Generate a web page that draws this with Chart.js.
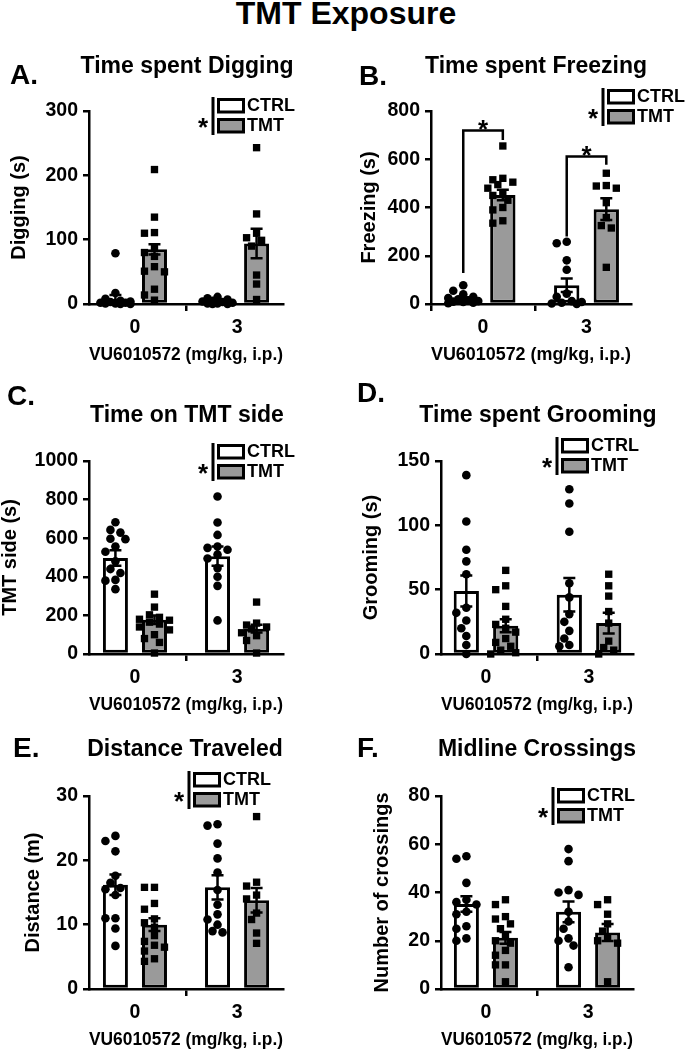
<!DOCTYPE html>
<html>
<head>
<meta charset="utf-8">
<script src="https://cdn.jsdelivr.net/npm/chart.js@4.4.1/dist/chart.umd.min.js"></script>
<style>
  body { margin: 0; width: 688px; height: 1050px; position: relative; overflow: hidden; background: #fff;
         font-family: "Liberation Sans", Arial, sans-serif; font-weight: bold; color: #000; }
  canvas { position: absolute; }
  .txt { position: absolute; line-height: 1; white-space: nowrap; }
</style>
</head>
<body>
<script>
const doses = ["0", "3"];
const xTitle = "VU6010572 (mg/kg, i.p.)";

// A. time spent digging (s)
const digCtrlMean = [8, 4];
const digCtrlSem = [6, 1.2];
const digTmtMean = [85, 94];
const digTmtSem = [8, 23];
const digCtrlPts = [[79, 17, 8, 5, 3, 2, 1, 0, 0, 1, 2, 4], [11, 9, 7, 5, 4, 3, 2, 1, 1, 0, 0]];
const digTmtPts = [[209, 135, 111, 110, 88, 80, 74, 58, 51, 50, 23, 14, 6], [243, 140, 110, 103, 99, 90, 45, 31, 7]];

// B. time spent freezing (s)
const frzCtrlMean = [20, 78];
const frzCtrlSem = [7, 28];
const frzTmtMean = [452, 393];
const frzTmtSem = [22, 45];
const frzCtrlPts = [[78, 55, 40, 30, 25, 20, 15, 12, 10, 8, 5, 3], [258, 252, 181, 142, 43, 30, 12, 8, 5, 2, 0]];
const frzTmtPts = [[655, 521, 515, 505, 495, 480, 460, 450, 430, 400, 390, 345, 335], [542, 491, 489, 480, 420, 358, 325, 315, 152]];
const frzSigLeft = [128, 280];
const frzSigTop = [719, 611];
const frzSigRight = [680, 577];

// C. time on TMT side (s)
const sideCtrlMean = [497, 507];
const sideCtrlSem = [40, 50];
const sideTmtMean = [178, 131];
const sideTmtSem = [22, 20];
const sideCtrlPts = [[683, 643, 629, 597, 595, 557, 530, 480, 440, 420, 384, 380, 336], [816, 681, 617, 557, 550, 540, 515, 495, 445, 400, 353, 174]];
const sideTmtPts = [[310, 243, 203, 190, 180, 175, 165, 155, 140, 125, 100, 80, 60, 5], [269, 160, 150, 140, 130, 110, 95, 70, 5]];

// D. time spent grooming (s)
const grmCtrlMean = [49, 46];
const grmCtrlSem = [12, 13];
const grmTmtMean = [22, 24];
const grmTmtSem = [5, 8];
const grmCtrlPts = [[139, 103, 81, 72, 62, 36, 32, 26, 20, 14, 7, 0], [128, 117, 95, 55, 44, 31, 25, 18, 12, 7, 6]];
const grmTmtPts = [[65, 53, 50, 37, 27, 23, 20, 17, 12, 9, 6, 3, 1, 0], [62, 53, 45, 33, 24, 10, 5, 3, 0]];

// E. distance traveled (m)
const distCtrlMean = [16.2, 15.8];
const distCtrlSem = [1.6, 1.9];
const distTmtMean = [10.0, 13.8];
const distTmtSem = [1.0, 1.9];
const distCtrlPts = [[23.8, 23.0, 21.4, 17.6, 16.5, 15.7, 15.5, 14.6, 11.0, 11.0, 9.4, 6.7], [25.6, 25.4, 22.6, 20.3, 18.1, 15.4, 13.1, 11.6, 10.8, 10.0, 9.0, 8.8]];
const distTmtPts = [[15.8, 15.8, 13.3, 12.4, 10.9, 10.3, 9.6, 8.3, 7.4, 6.8, 6.5, 5.9, 4.7, 4.3], [26.8, 16.6, 16.0, 14.6, 14.0, 11.8, 10.8, 8.7, 7.1]];

// F. midline crossings
const crsCtrlMean = [35.2, 32];
const crsCtrlSem = [3.2, 4.3];
const crsTmtMean = [21.2, 23.4];
const crsTmtSem = [2.4, 3.5];
const crsCtrlPts = [[55, 54, 44, 37, 36, 35, 32, 31, 26, 25, 21, 20], [58, 53, 41, 40, 39, 32, 28, 25, 21, 20, 18, 9]];
const crsTmtPts = [[37, 35, 30, 29, 27, 25, 22, 20, 19, 16, 14, 10, 10, 3], [37, 35, 31, 27, 24, 21, 20, 19, 3]];

const FONT = "'Liberation Sans', Arial, sans-serif";
const PLOT_H = 193;
const TOP_PAD = 80;
const X_H = 60;
const CANVAS_H = 337;
const CAT_PCT = 0.765;

Chart.defaults.font.family = FONT;
Chart.defaults.font.weight = "bold";
Chart.defaults.color = "#000";

function addText(text, x, y, size, align) {
  let d = document.createElement("div");
  d.className = "txt";
  d.innerText = text;
  d.style.fontSize = size + "px";
  d.style.left = x + "px";
  d.style.top = y + "px";
  d.style.transform = align === "left" ? "translate(0,-50%)" : "translate(-50%,-50%)";
  document.body.appendChild(d);
}

// simple beeswarm: horizontal pixel offset for each value so markers don't pile up
function swarm(vals, pxY) {
  const placed = [];
  const offs = vals.map(() => 0);
  const order = vals.map((v, i) => i).sort((a, b) => vals[b] - vals[a]);
  const cands = [0, -5, 5, -10, 10, -15, 15];
  order.forEach((i) => {
    const y = vals[i] * pxY;
    let best = 0, bestD = -1;
    for (const c of cands) {
      let d = Infinity;
      placed.forEach((q) => { d = Math.min(d, Math.hypot(c - q[0], y - q[1])); });
      if (d >= 8) { best = c; break; }
      if (d > bestD) { bestD = d; best = c; }
    }
    offs[i] = best;
    placed.push([best, y]);
  });
  return offs;
}

const errorBars = {
  id: "errorBars",
  afterDatasetsDraw(chart) {
    const ctx = chart.ctx;
    const ys = chart.scales.y;
    chart.data.datasets.forEach((ds, di) => {
      if (!ds.sem) return;
      chart.getDatasetMeta(di).data.forEach((bar, i) => {
        const m = ds.data[i].y, s = ds.sem[i];
        const top = ys.getPixelForValue(m + s);
        const bot = ys.getPixelForValue(Math.max(m - s, 0));
        ctx.save();
        ctx.strokeStyle = "#000";
        ctx.lineWidth = 2.5;
        ctx.beginPath();
        ctx.moveTo(bar.x, top); ctx.lineTo(bar.x, bot);
        ctx.moveTo(bar.x - 6, top); ctx.lineTo(bar.x + 6, top);
        ctx.moveTo(bar.x - 6, bot); ctx.lineTo(bar.x + 6, bot);
        ctx.stroke();
        ctx.restore();
      });
    });
  },
};

const sigBrackets = {
  id: "sigBrackets",
  afterDatasetsDraw(chart, args, opts) {
    if (!opts.left) return;
    const ctx = chart.ctx;
    const ys = chart.scales.y;
    const metas = chart.data.datasets.map((d, i) => (d.type === "bar" ? chart.getDatasetMeta(i) : null)).filter(Boolean);
    opts.left.forEach((lv, i) => {
      const x1 = metas[0].data[i].x, x2 = metas[1].data[i].x;
      const yt = ys.getPixelForValue(opts.top[i]);
      ctx.save();
      ctx.strokeStyle = "#000";
      ctx.lineWidth = 2.5;
      ctx.beginPath();
      ctx.moveTo(x1, ys.getPixelForValue(lv));
      ctx.lineTo(x1, yt);
      ctx.lineTo(x2, yt);
      ctx.lineTo(x2, ys.getPixelForValue(opts.right[i]));
      ctx.stroke();
      ctx.fillStyle = "#000";
      ctx.font = "bold 26px " + FONT;
      ctx.textAlign = "center";
      ctx.textBaseline = "alphabetic";
      ctx.fillText("*", (x1 + x2) / 2, yt + 7);
      ctx.restore();
    });
  },
};

const sigLegend = {
  id: "sigLegend",
  afterDraw(chart, args, opts) {
    const ctx = chart.ctx;
    const ax = chart.chartArea.right + opts.dx;
    const ay = chart.chartArea.top + opts.dy;
    ctx.save();
    ctx.fillStyle = "#000";
    ctx.font = "bold 26px " + FONT;
    ctx.textAlign = "center";
    ctx.textBaseline = "alphabetic";
    ctx.fillText("*", ax - 10, ay + 39);
    ctx.strokeStyle = "#000";
    ctx.lineWidth = 3;
    ctx.beginPath();
    ctx.moveTo(ax, ay); ctx.lineTo(ax, ay + 38);
    ctx.stroke();
    chart.data.datasets.filter((d) => d.type === "bar").forEach((ds, k) => {
      const by = ay + 1 + k * 20;
      ctx.fillStyle = ds.backgroundColor;
      ctx.fillRect(ax + 5.5, by + 1.5, 25, 12.5);
      ctx.strokeRect(ax + 5.5, by + 1.5, 25, 12.5);
      ctx.fillStyle = "#000";
      ctx.font = "bold 18px " + FONT;
      ctx.textAlign = "left";
      ctx.textBaseline = "middle";
      ctx.fillText(ds.label, ax + 34, by + 8.5);
    });
    ctx.restore();
  },
};

const panels = [
  { letter: "A.", title: "Time spent Digging", yTitle: "Digging (s)", yMax: 300, yStep: 100,
    ctrlMean: digCtrlMean, ctrlSem: digCtrlSem, tmtMean: digTmtMean, tmtSem: digTmtSem, ctrlPts: digCtrlPts, tmtPts: digTmtPts,
    left: 0, top: 31, w: 344, yw: 89, padR: 61, xMin: -0.45, xMax: 1.45, yTitlePad: 9.25, legend: [-70, -14],
    letterPos: [10, 75], titlePos: [187, 65] },
  { letter: "B.", title: "Time spent Freezing", yTitle: "Freezing (s)", yMax: 800, yStep: 200,
    ctrlMean: frzCtrlMean, ctrlSem: frzCtrlSem, tmtMean: frzTmtMean, tmtSem: frzTmtSem, ctrlPts: frzCtrlPts, tmtPts: frzTmtPts,
    sig: { left: frzSigLeft, top: frzSigTop, right: frzSigRight },
    left: 344, top: 31, w: 344, yw: 87, padR: 57, xMin: -0.503, xMax: 1.43, yTitlePad: 15.25, legend: [-28, -23],
    letterPos: [359, 76], titlePos: [536, 65] },
  { letter: "C.", title: "Time on TMT side", yTitle: "TMT side (s)", yMax: 1000, yStep: 200,
    ctrlMean: sideCtrlMean, ctrlSem: sideCtrlSem, tmtMean: sideTmtMean, tmtSem: sideTmtSem, ctrlPts: sideCtrlPts, tmtPts: sideTmtPts,
    left: 0, top: 381, w: 344, yw: 89, padR: 61, xMin: -0.45, xMax: 1.45, yTitlePad: 0.25, legend: [-70, -18],
    letterPos: [7, 396], titlePos: [187, 414] },
  { letter: "D.", title: "Time spent Grooming", yTitle: "Grooming (s)", yMax: 150, yStep: 50,
    ctrlMean: grmCtrlMean, ctrlSem: grmCtrlSem, tmtMean: grmTmtMean, tmtSem: grmTmtSem, ctrlPts: grmCtrlPts, tmtPts: grmTmtPts,
    left: 344, top: 381, w: 344, yw: 97, padR: 55, xMin: -0.437, xMax: 1.427, yTitlePad: 17.25, legend: [-76, -24],
    letterPos: [357, 393], titlePos: [538, 414] },
  { letter: "E.", title: "Distance Traveled", yTitle: "Distance (m)", yMax: 30, yStep: 10,
    ctrlMean: distCtrlMean, ctrlSem: distCtrlSem, tmtMean: distTmtMean, tmtSem: distTmtSem, ctrlPts: distCtrlPts, tmtPts: distTmtPts,
    left: 0, top: 716, w: 344, yw: 89, padR: 61, xMin: -0.45, xMax: 1.45, yTitlePad: 23.25, legend: [-94, -25],
    letterPos: [13, 748], titlePos: [185, 748] },
  { letter: "F.", title: "Midline Crossings", yTitle: "Number of crossings", yMax: 80, yStep: 20,
    ctrlMean: crsCtrlMean, ctrlSem: crsCtrlSem, tmtMean: crsTmtMean, tmtSem: crsTmtSem, ctrlPts: crsCtrlPts, tmtPts: crsTmtPts,
    left: 344, top: 716, w: 344, yw: 97, padR: 55, xMin: -0.44, xMax: 1.44, yTitlePad: 28.25, legend: [-80, -9],
    letterPos: [357, 748], titlePos: [537, 748] },
];

function makePanel(p) {
  let canvas = document.createElement("canvas");
  canvas.width = p.w;
  canvas.height = CANVAS_H;
  canvas.style.left = p.left + "px";
  canvas.style.top = p.top + "px";
  document.body.appendChild(canvas);

  const plotW = p.w - p.yw - p.padR;
  const pxX = plotW / (p.xMax - p.xMin);
  const pxY = PLOT_H / p.yMax;
  const half = CAT_PCT / 4;
  const toPoints = (lists, side) =>
    lists.flatMap((vals, i) => {
      const offs = swarm(vals, pxY);
      return vals.map((v, k) => ({ x: i + side * half + offs[k] / pxX, y: v }));
    });

  const axisGrid = { display: true, drawOnChartArea: false, drawTicks: true, color: "#000", lineWidth: 2.5 };

  new Chart(canvas, {
    type: "bar",
    data: {
      datasets: [
        { type: "scatter", label: "CTRL points", data: toPoints(p.ctrlPts, -1), pointStyle: "circle", pointRadius: 4.3,
          backgroundColor: "#000", borderWidth: 0, order: 1, clip: false },
        { type: "scatter", label: "TMT points", data: toPoints(p.tmtPts, 1), pointStyle: "rect", pointRadius: 5.2,
          backgroundColor: "#000", borderWidth: 0, order: 1, clip: false },
        { type: "bar", label: "CTRL", data: p.ctrlMean.map((m, i) => ({ x: i, y: m })), sem: p.ctrlSem,
          backgroundColor: "#ffffff", borderColor: "#000", borderWidth: 3, borderSkipped: false,
          categoryPercentage: CAT_PCT, barPercentage: 0.64, order: 2 },
        { type: "bar", label: "TMT", data: p.tmtMean.map((m, i) => ({ x: i, y: m })), sem: p.tmtSem,
          backgroundColor: "#9a9a9a", borderColor: "#000", borderWidth: 3, borderSkipped: false,
          categoryPercentage: CAT_PCT, barPercentage: 0.64, order: 2 },
      ],
    },
    options: {
      responsive: false,
      animation: false,
      devicePixelRatio: 1,
      layout: { padding: { top: TOP_PAD, left: 0, right: p.padR, bottom: CANVAS_H - TOP_PAD - PLOT_H - X_H } },
      plugins: {
        legend: { display: false },
        tooltip: { enabled: false },
        sigLegend: { dx: p.legend[0], dy: p.legend[1] },
        sigBrackets: p.sig || {},
      },
      scales: {
        x: {
          type: "linear",
          min: p.xMin,
          max: p.xMax,
          offset: false,
          afterBuildTicks: (s) => { s.ticks = doses.map((d, i) => ({ value: i })); },
          afterFit: (s) => { s.height = X_H; },
          ticks: { callback: (v) => doses[v], font: { size: 19.5, weight: "bold" }, padding: 5, color: "#000" },
          grid: { ...axisGrid, tickLength: 7 },
          border: { display: true, color: "#000", width: 2.5 },
          title: { display: true, text: xTitle, font: { size: 18.5, weight: "bold", lineHeight: 1 }, padding: 0, color: "#000" },
        },
        y: {
          min: 0,
          max: p.yMax,
          afterFit: (s) => { s.width = p.yw; },
          ticks: { stepSize: p.yStep, callback: (v) => String(v), font: { size: 19.5, weight: "bold" }, padding: 5, color: "#000" },
          grid: { ...axisGrid, tickLength: 6 },
          border: { display: true, color: "#000", width: 2.5 },
          title: { display: true, text: p.yTitle, font: { size: 20, weight: "bold", lineHeight: 1 },
                   padding: { top: p.yTitlePad, bottom: 0 }, color: "#000" },
        },
      },
    },
    plugins: [errorBars, sigBrackets, sigLegend],
  });

  addText(p.letter, p.letterPos[0], p.letterPos[1], 28, "left");
  addText(p.title, p.titlePos[0], p.titlePos[1], 23, "center");
}

panels.forEach(makePanel);
addText("TMT Exposure", 346, 13, 32, "center");
</script>
</body>
</html>
